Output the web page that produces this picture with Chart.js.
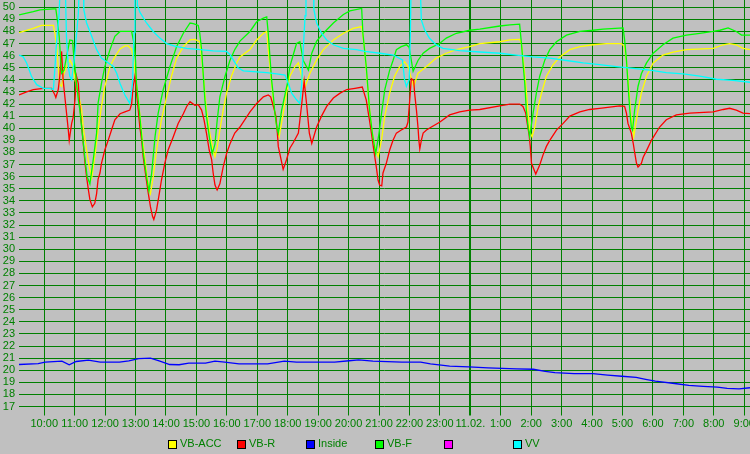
<!DOCTYPE html>
<html>
<head>
<meta charset="utf-8">
<script src="https://cdn.jsdelivr.net/npm/chart.js@4.4.1/dist/chart.umd.min.js"></script>
<style>
  html, body { margin: 0; padding: 0; background: #c0c0c0; }
  #wrap { position: relative; width: 750px; height: 454px; overflow: hidden; }
  .item { position: absolute; top: 440px; font: 11px "Liberation Sans", Arial, sans-serif; color: #008000; }
  .box { position: absolute; left: 0; top: 0; width: 7px; height: 7px; border: 1px solid #000; }
  .txt { position: absolute; left: 12px; top: -3px; line-height: 13px; white-space: nowrap; }
</style>
</head>
<body>
<div id="wrap">
  <canvas id="grafico" width="750" height="454"></canvas>
  <div id="legenda"></div>
</div>
<script>
// time in hours from 10.02. 00:00 (24 = 11.02. 00:00), value in degrees
const xMin = 9.17, xMax = 33.19;
const yMin = 17, yMax = 50.6;

const vbAcc = [
  [9.17, 47.9], [9.64, 48.26], [9.91, 48.5], [10.3, 48.5], [10.35, 47.85], [10.41, 46.75],
  [10.46, 45.1], [10.51, 43.6], [10.57, 43.45], [10.62, 44.3], [10.73, 45.1], [10.84, 45.65],
  [10.95, 45.1], [11.01, 44.0], [11.12, 42.9], [11.23, 41.5], [11.28, 40.1], [11.39, 38.2],
  [11.48, 36.8], [11.56, 35.9], [11.66, 37.65], [11.77, 39.85], [11.88, 41.8], [11.99, 43.45],
  [12.16, 45.1], [12.32, 45.9], [12.49, 46.55], [12.65, 46.8], [12.76, 46.8], [12.87, 46.5],
  [12.92, 45.9], [13.03, 43.7], [13.09, 42.35], [13.16, 40.7], [13.23, 39.0], [13.31, 37.4],
  [13.38, 36.0], [13.45, 34.9], [13.49, 34.6], [13.58, 36.0], [13.69, 38.2], [13.85, 40.7],
  [14.02, 42.6], [14.18, 44.3], [14.35, 45.8], [14.57, 46.75], [14.79, 47.3], [14.95, 47.35],
  [15.11, 47.15], [15.17, 45.9], [15.25, 43.7], [15.33, 41.5], [15.44, 39.6], [15.55, 38.2],
  [15.61, 37.65], [15.68, 38.4], [15.77, 39.85], [15.88, 41.5], [15.99, 42.9], [16.15, 44.3],
  [16.32, 45.4], [16.43, 45.9], [16.76, 46.5], [16.98, 47.3], [17.2, 47.85], [17.31, 48.0],
  [17.36, 46.5], [17.47, 43.7], [17.55, 41.8], [17.64, 40.1], [17.72, 39.3], [17.85, 41.2],
  [17.96, 42.9], [18.07, 44.3], [18.24, 45.1], [18.35, 45.4], [18.46, 44.3], [18.57, 43.45],
  [18.73, 44.55], [18.95, 45.65], [19.17, 46.5], [19.5, 47.3], [19.83, 47.85], [20.15, 48.26],
  [20.43, 48.4], [20.53, 46.5], [20.64, 42.9], [20.75, 40.1], [20.86, 38.5], [20.97, 37.65],
  [21.08, 39.0], [21.19, 41.0], [21.35, 42.9], [21.51, 44.3], [21.68, 45.1], [21.84, 45.5],
  [21.95, 45.1], [22.14, 43.45], [22.28, 44.55], [22.56, 45.1], [22.88, 45.8], [23.21, 46.2],
  [23.54, 46.5], [23.98, 46.75], [24.31, 47.0], [24.97, 47.15], [25.3, 47.3], [25.62, 47.35],
  [25.68, 47.0], [25.73, 45.9], [25.82, 43.7], [25.9, 41.2], [25.97, 39.6], [26.03, 39.3],
  [26.12, 40.1], [26.23, 41.8], [26.34, 42.9], [26.5, 44.3], [26.72, 45.25], [26.94, 45.9],
  [27.27, 46.5], [27.6, 46.75], [28.03, 46.9], [28.47, 47.0], [28.96, 47.0], [29.07, 46.75],
  [29.15, 45.1], [29.22, 42.9], [29.27, 41.2], [29.33, 40.1], [29.37, 39.3], [29.51, 41.5],
  [29.62, 42.9], [29.79, 44.3], [30.01, 45.4], [30.33, 46.05], [30.66, 46.3], [31.1, 46.5],
  [31.98, 46.6], [32.31, 46.9], [32.52, 47.0], [32.74, 46.9], [32.96, 46.6], [33.19, 46.5]
];

const vbR = [
  [9.17, 42.75], [9.42, 43.0], [9.64, 43.2], [9.97, 43.3], [10.24, 43.3], [10.35, 42.75],
  [10.38, 42.55], [10.46, 43.2], [10.51, 44.3], [10.57, 46.35], [10.62, 44.0], [10.71, 41.8],
  [10.79, 39.85], [10.82, 39.0], [10.9, 40.4], [10.95, 40.9], [11.01, 42.35], [11.06, 44.3],
  [11.12, 43.7], [11.15, 42.35], [11.23, 40.1], [11.28, 38.8], [11.34, 37.1], [11.39, 36.0],
  [11.45, 34.9], [11.5, 34.1], [11.58, 33.5], [11.66, 33.8], [11.72, 34.6], [11.77, 35.8],
  [11.83, 36.3], [11.88, 37.1], [11.99, 38.2], [12.1, 39.0], [12.21, 39.85], [12.32, 40.7],
  [12.49, 41.2], [12.65, 41.35], [12.81, 41.5], [12.87, 42.0], [12.92, 43.45], [12.98, 44.3],
  [13.03, 42.9], [13.09, 41.5], [13.14, 40.1], [13.2, 39.0], [13.25, 37.65], [13.34, 36.0],
  [13.42, 34.6], [13.49, 33.5], [13.56, 32.7], [13.6, 32.45], [13.69, 33.25], [13.78, 34.6],
  [13.85, 35.7], [13.96, 37.1], [14.07, 38.2], [14.24, 39.3], [14.4, 40.4], [14.57, 41.2],
  [14.68, 41.8], [14.79, 42.2], [14.95, 41.9], [15.06, 41.95], [15.17, 41.5], [15.25, 40.7],
  [15.33, 39.6], [15.42, 38.2], [15.5, 37.4], [15.55, 36.3], [15.61, 35.3], [15.68, 34.9],
  [15.77, 35.4], [15.88, 36.8], [15.99, 37.9], [16.1, 38.7], [16.26, 39.6], [16.43, 40.1],
  [16.76, 41.35], [16.98, 42.05], [17.2, 42.6], [17.36, 42.75], [17.44, 42.6], [17.53, 41.8],
  [17.61, 41.0], [17.66, 39.6], [17.69, 38.5], [17.85, 36.6], [17.96, 37.4], [18.07, 38.35],
  [18.18, 38.8], [18.35, 39.6], [18.46, 42.0], [18.54, 43.9], [18.62, 42.0], [18.71, 39.6],
  [18.79, 38.75], [18.95, 40.1], [19.11, 41.0], [19.28, 41.8], [19.5, 42.5], [19.72, 42.9],
  [19.94, 43.2], [20.21, 43.3], [20.45, 43.4], [20.58, 42.35], [20.69, 40.6], [20.75, 39.6],
  [20.86, 37.65], [20.91, 36.8], [20.97, 35.7], [21.02, 35.3], [21.09, 35.23], [21.13, 36.3],
  [21.24, 37.1], [21.35, 38.2], [21.46, 39.0], [21.57, 39.6], [21.73, 39.85], [21.9, 40.1],
  [21.95, 40.5], [22.01, 42.35], [22.06, 44.1], [22.14, 43.95], [22.17, 42.9], [22.23, 41.5],
  [22.28, 40.1], [22.31, 39.0], [22.34, 38.3], [22.39, 39.0], [22.45, 39.6], [22.56, 39.85],
  [22.72, 40.1], [22.99, 40.5], [23.32, 41.1], [23.65, 41.35], [23.98, 41.5], [24.31, 41.55],
  [24.97, 41.85], [25.3, 42.0], [25.62, 42.0], [25.73, 41.8], [25.82, 41.25], [25.87, 40.4],
  [25.93, 39.5], [25.97, 38.5], [26.01, 37.1], [26.15, 36.22], [26.28, 36.96], [26.39, 37.8],
  [26.5, 38.5], [26.61, 39.0], [26.83, 39.85], [27.05, 40.4], [27.27, 41.0], [27.6, 41.35],
  [27.92, 41.55], [28.25, 41.65], [28.58, 41.75], [28.91, 41.85], [29.07, 41.8], [29.13, 41.25],
  [29.18, 40.4], [29.29, 39.6], [29.35, 38.8], [29.4, 38.0], [29.46, 37.1], [29.51, 36.8],
  [29.62, 37.1], [29.68, 37.6], [29.79, 38.15], [29.95, 39.0], [30.22, 40.1], [30.44, 40.7],
  [30.77, 41.1], [31.21, 41.25], [31.98, 41.35], [32.31, 41.55], [32.52, 41.65], [32.74, 41.5],
  [32.96, 41.25], [33.19, 41.2]
];

const inside = [
  [9.17, 20.47], [9.8, 20.55], [10.03, 20.67], [10.58, 20.75], [10.82, 20.45], [11.05, 20.72],
  [11.45, 20.83], [11.84, 20.67], [12.47, 20.67], [12.78, 20.78], [13.1, 20.95], [13.49, 21.0],
  [13.8, 20.75], [14.12, 20.47], [14.43, 20.45], [14.75, 20.58], [15.3, 20.58], [15.61, 20.75],
  [15.93, 20.67], [16.4, 20.53], [17.34, 20.53], [17.89, 20.75], [18.29, 20.67], [19.54, 20.67],
  [20.02, 20.78], [20.33, 20.86], [20.8, 20.75], [21.75, 20.67], [22.37, 20.67], [22.69, 20.53],
  [23.32, 20.33], [23.95, 20.28], [24.58, 20.2], [25.52, 20.11], [26.07, 20.08], [26.46, 19.9],
  [26.78, 19.8], [27.41, 19.72], [28.03, 19.72], [28.51, 19.6], [28.98, 19.5], [29.45, 19.4],
  [29.76, 19.25], [30.08, 19.1], [30.71, 18.9], [31.18, 18.75], [31.65, 18.67], [32.12, 18.6],
  [32.44, 18.5], [32.83, 18.45], [33.19, 18.55]
];

const vbF = [
  [9.17, 49.37], [9.64, 49.64], [9.86, 49.78], [10.3, 49.86], [10.38, 49.86], [10.43, 48.95],
  [10.49, 47.6], [10.57, 44.55], [10.65, 44.8], [10.73, 45.9], [10.84, 47.3], [10.93, 47.25],
  [10.97, 45.9], [11.04, 44.27], [11.12, 42.35], [11.17, 41.5], [11.34, 37.4], [11.41, 36.0],
  [11.5, 35.4], [11.61, 37.4], [11.72, 39.6], [11.77, 42.1], [11.88, 43.7], [11.99, 45.1],
  [12.16, 46.5], [12.32, 47.6], [12.49, 48.0], [12.87, 48.0], [12.95, 47.0], [13.0, 45.6],
  [13.03, 43.7], [13.14, 41.0], [13.25, 38.0], [13.36, 36.0], [13.44, 34.8], [13.53, 36.3],
  [13.64, 39.3], [13.74, 41.2], [13.91, 43.2], [14.13, 45.1], [14.35, 46.75], [14.57, 47.85],
  [14.79, 48.7], [14.9, 48.65], [15.06, 48.5], [15.11, 47.85], [15.17, 46.5], [15.28, 42.3],
  [15.33, 41.0], [15.44, 39.0], [15.52, 37.9], [15.61, 38.7], [15.68, 40.6], [15.77, 42.6],
  [15.94, 44.3], [16.1, 45.6], [16.26, 46.5], [16.43, 47.2], [16.76, 48.0], [16.98, 48.8],
  [17.2, 49.1], [17.31, 49.2], [17.36, 47.85], [17.47, 44.0], [17.53, 42.6], [17.58, 41.2],
  [17.64, 40.1], [17.69, 39.6], [17.8, 41.5], [17.99, 43.7], [18.07, 45.1], [18.18, 46.05],
  [18.29, 47.0], [18.4, 47.15], [18.51, 45.6], [18.68, 44.8], [18.79, 46.2], [18.95, 47.2],
  [19.17, 47.85], [19.5, 48.7], [19.83, 49.4], [20.04, 49.7], [20.43, 49.9], [20.47, 47.85],
  [20.58, 45.1], [20.69, 41.5], [20.78, 39.6], [20.89, 37.9], [21.0, 39.6], [21.08, 41.2],
  [21.19, 43.2], [21.35, 44.8], [21.46, 45.6], [21.57, 46.5], [21.73, 46.75], [21.9, 46.9],
  [21.99, 46.7], [22.12, 44.7], [22.28, 45.6], [22.45, 46.2], [22.66, 46.6], [22.99, 47.0],
  [23.21, 47.45], [23.54, 47.85], [23.98, 48.1], [24.31, 48.2], [24.97, 48.45], [25.3, 48.55],
  [25.62, 48.6], [25.68, 47.0], [25.73, 45.4], [25.79, 43.7], [25.84, 41.5], [25.9, 40.1],
  [25.95, 39.3], [26.06, 41.2], [26.17, 42.9], [26.28, 44.3], [26.45, 45.65], [26.61, 46.5],
  [26.83, 47.15], [27.16, 47.7], [27.6, 48.0], [28.03, 48.1], [28.36, 48.2], [29.02, 48.3],
  [29.07, 47.3], [29.13, 45.65], [29.18, 43.7], [29.24, 41.5], [29.29, 40.1], [29.33, 39.85],
  [29.4, 41.5], [29.51, 43.45], [29.62, 44.5], [29.79, 45.4], [30.01, 46.2], [30.33, 46.9],
  [30.66, 47.45], [31.1, 47.7], [31.54, 47.85], [31.98, 48.0], [32.2, 48.1], [32.47, 48.3],
  [32.74, 48.0], [32.91, 47.7], [33.19, 47.7]
];

const magenta = [];

// values above 50.6 run off the top of the plot
const vv = [
  [9.17, 46.05], [9.31, 45.9], [9.42, 45.4], [9.58, 44.3], [9.75, 43.6], [9.97, 43.3],
  [10.19, 43.3], [10.3, 43.2], [10.35, 45.0], [10.41, 47.3], [10.49, 49.5], [10.54, 53],
  [10.68, 53], [10.73, 47.5], [10.79, 45.1], [10.84, 44.3], [10.9, 44.0], [11.0, 46.0],
  [11.12, 49.5], [11.17, 53], [11.28, 53], [11.3, 49.8], [11.39, 48.7], [11.56, 47.6],
  [11.72, 46.5], [11.88, 45.8], [12.05, 45.5], [12.27, 45.1], [12.38, 44.55], [12.49, 43.7],
  [12.65, 42.75], [12.81, 42.05], [12.9, 43.7], [12.95, 47.9], [12.98, 53], [13.03, 53],
  [13.06, 50.2], [13.14, 49.6], [13.36, 48.7], [13.58, 48.0], [13.8, 47.45], [14.02, 47.0],
  [14.35, 46.75], [14.68, 46.6], [15.12, 46.5], [15.55, 46.4], [15.99, 46.35], [16.1, 46.1],
  [16.21, 45.65], [16.37, 45.0], [16.54, 44.75], [16.76, 44.7], [17.31, 44.6], [17.64, 44.5],
  [17.91, 44.4], [18.02, 43.7], [18.13, 42.9], [18.29, 42.35], [18.4, 42.05], [18.46, 43.7],
  [18.51, 46.5], [18.57, 49.3], [18.6, 53], [18.84, 53], [18.86, 49.8], [18.95, 48.7],
  [19.11, 47.85], [19.28, 47.3], [19.5, 46.9], [19.83, 46.6], [20.26, 46.5], [20.54, 46.35],
  [21.03, 46.2], [21.47, 46.05], [21.77, 45.65], [21.84, 44.0], [21.9, 43.45], [21.99, 44.0],
  [22.03, 47.8], [22.06, 53], [22.34, 53], [22.39, 48.95], [22.5, 48.13], [22.66, 47.44],
  [22.88, 46.89], [23.1, 46.61], [23.65, 46.42], [24.31, 46.3], [24.97, 46.2], [25.51, 46.05],
  [26.06, 45.9], [26.61, 45.8], [27.16, 45.6], [27.71, 45.4], [28.25, 45.25], [28.8, 45.1],
  [29.35, 44.95], [29.9, 44.8], [30.44, 44.6], [30.99, 44.5], [31.54, 44.3], [32.09, 44.05],
  [32.63, 43.95], [33.19, 43.8]
];

const seriesNames = ['VB-ACC', 'VB-R', 'Inside', 'VB-F', '', 'VV'];
const seriesColors = ['#ffff00', '#ff0000', '#0000ff', '#00ff00', '#ff00ff', '#00ffff'];
const seriesData = [vbAcc, vbR, inside, vbF, magenta, vv];

const gridGreen = '#008000';

function hourLabel(v) {
  const h = v % 24;
  return h === 0 ? '11.02.' : h + ':00';
}

Chart.defaults.font.family = '"Liberation Sans", Arial, sans-serif';
Chart.defaults.font.size = 11;
Chart.defaults.color = gridGreen;

const ctx = document.getElementById('grafico').getContext('2d');

new Chart(ctx, {
  type: 'line',
  data: {
    datasets: seriesData.map((d, i) => ({
      label: seriesNames[i],
      data: d.map(p => ({ x: p[0], y: p[1] })),
      borderColor: seriesColors[i],
      backgroundColor: seriesColors[i],
      borderWidth: 1.3,
      pointRadius: 0,
      tension: 0,
      fill: false,
      order: seriesData.length - i
    }))
  },
  options: {
    responsive: false,
    animation: false,
    layout: { padding: 0 },
    plugins: {
      legend: { display: false },
      tooltip: { enabled: false }
    },
    scales: {
      x: {
        type: 'linear',
        min: xMin,
        max: xMax,
        border: { display: false },
        grid: {
          color: gridGreen,
          lineWidth: c => (c.tick && c.tick.value === 24 ? 2 : 1),
          drawTicks: true,
          tickLength: 9
        },
        ticks: {
          stepSize: 1,
          includeBounds: false,
          autoSkip: false,
          maxRotation: 0,
          padding: 2,
          color: gridGreen,
          callback: hourLabel
        },
        afterFit: s => {
          s.height = 47.5;
          s.paddingLeft = 0;
          s.paddingRight = 0;
        }
      },
      y: {
        min: yMin,
        max: yMax,
        border: { display: false },
        grid: { color: gridGreen, drawTicks: false },
        ticks: {
          stepSize: 1,
          includeBounds: false,
          autoSkip: false,
          padding: 4,
          color: gridGreen
        },
        afterFit: s => {
          s.width = 19;
          s.paddingTop = 0;
          s.paddingBottom = 0;
        }
      }
    }
  }
});

// legend row under the plot
const legenda = document.getElementById('legenda');
seriesNames.forEach((name, i) => {
  const item = document.createElement('div');
  item.className = 'item';
  item.style.left = (168 + i * 69) + 'px';
  item.innerHTML = '<span class="box" style="background:' + seriesColors[i] + '"></span>' +
    '<span class="txt">' + name + '</span>';
  legenda.appendChild(item);
});
</script>
</body>
</html>
